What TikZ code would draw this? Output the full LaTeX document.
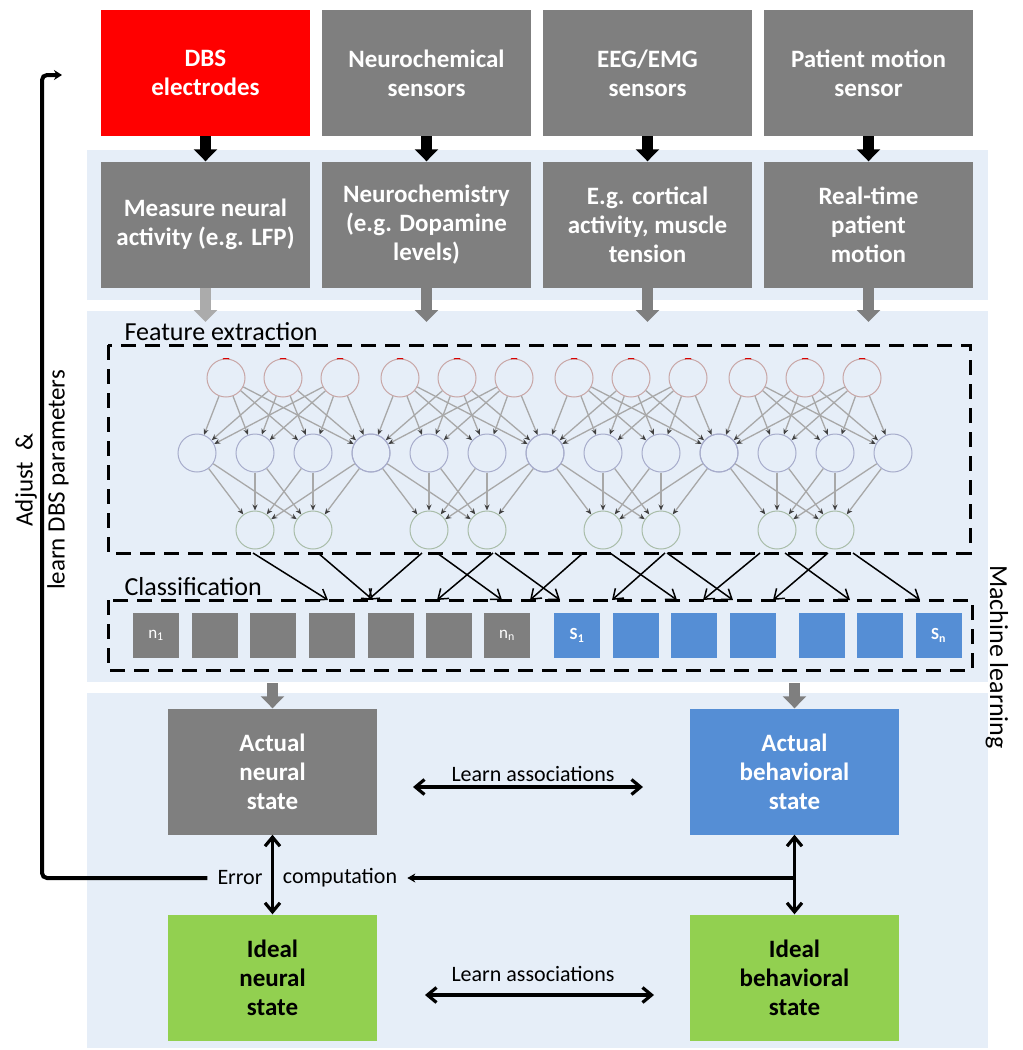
\documentclass[tikz,border=0pt]{standalone}
\usepackage{fontspec}
\setmainfont{Carlito}
\usetikzlibrary{arrows.meta,positioning}

\definecolor{panelblue}{HTML}{E6EEF8}
\definecolor{boxgray}{HTML}{7F7F7F}
\definecolor{arrowlight}{HTML}{ABABAB}
\definecolor{boxred}{HTML}{FF0000}
\definecolor{boxblue}{HTML}{558ED5}
\definecolor{boxgreen}{HTML}{92D050}
\definecolor{ringtop}{HTML}{C8A6A6}
\definecolor{ringhid}{HTML}{A7ACCB}
\definecolor{ringout}{HTML}{A9BDA9}
\definecolor{synapse}{HTML}{A8A8A8}

\begin{document}
\begin{tikzpicture}[x=1pt,y=-1pt,node distance=151.5pt and 221pt,on grid,
    box/.style={rectangle,fill=boxgray,minimum width=209pt,minimum height=126pt,
      inner sep=0pt,align=center,text=white,font=\fontsize{25}{29}\selectfont\bfseries},
    blk/.style={line width=11pt,-{Triangle[length=12pt,width=23pt]}},
    garr/.style={blk,draw=boxgray},
    neu/.style={circle,draw,minimum size=38pt,inner sep=0pt,line width=1pt},
    syn/.style={draw=synapse,line width=1.3pt,-{Stealth[length=6pt,width=5pt,color=black!75]}},
    dbox/.style={draw,line width=3pt,dash pattern=on 15pt off 9pt},
    xarr/.style={line width=1.5pt,-{Straight Barb[length=9pt,width=13pt]}},
    bidir/.style={line width=3.2pt,{Straight Barb[length=9pt,width=15pt]}-{Straight Barb[length=9pt,width=15pt]}},
    fb/.style={line width=4pt},
    lbl/.style={font=\fontsize{22}{26}\selectfont},
    side/.style={font=\fontsize{25}{29}\selectfont},
    cls/.style={rectangle,minimum width=46pt,minimum height=45pt,inner sep=0pt,
      text=white,font=\fontsize{17}{20}\selectfont}]

    \useasboundingbox (0,0) rectangle (1023,1050);

    % panels
    \fill[panelblue] (87,150) rectangle (988,300);
    \fill[panelblue] (87,311) rectangle (988,682);
    \fill[panelblue] (87,693) rectangle (988,1048);

    % sensors
    \node[box,fill=boxred] (dbs) at (205.5,73) {DBS\\electrodes};
    \node[box] (chem) [right=of dbs] {Neurochemical\\sensors};
    \node[box] (eeg) [right=of chem] {EEG/EMG\\sensors};
    \node[box] (mot) [right=of eeg] {Patient motion\\sensor};

    \node[box] (lfp) [below=of dbs] {Measure neural\\activity (e.g. LFP)};
    \node[box] (dopa) [below=of chem] {Neurochemistry\\(e.g. Dopamine\\levels)};
    \node[box] (cort) [below=of eeg] {E.g. cortical\\activity, muscle\\tension};
    \node[box] (move) [below=of mot] {Real-time\\patient\\motion};

    \coordinate (p2in) at (0,322);
    \foreach \s/\m in {dbs/lfp,chem/dopa,eeg/cort,mot/move}
        \draw[blk] (\s.south) -- (\m.north);
    \draw[garr,draw=arrowlight] (lfp.south) -- (lfp.south |- p2in);
    \foreach \m in {dopa,cort,move}
        \draw[garr] (\m.south) -- (\m.south |- p2in);

    % feature extraction
    \node[side,font=\fontsize{26}{30}\selectfont,anchor=west] (feat) at (121,332) {Feature extraction};
    \draw[dbox] (108,345) rectangle (970,553);

    \foreach \g in {0,...,3}{
        \foreach \i in {0,1,2}{
            \node[neu,draw=ringtop] (t-\g-\i) at (226+174*\g+57*\i,378) {};
            \draw[red!85!black,line width=1pt] (t-\g-\i.80) arc[start angle=80,end angle=100,radius=19pt];
        }
        \foreach \j in {0,...,3}
            \node[neu,draw=ringhid] (h-\g-\j) at (197+174*\g+58*\j,453) {};
        \foreach \k in {1,2}
            \node[neu,draw=ringout] (o-\g-\k) at (197+174*\g+58*\k,530) {};
        \foreach \i in {0,1,2}
            \foreach \j in {0,...,3}
                \draw[syn] (t-\g-\i) -- (h-\g-\j);
        \foreach \j in {0,...,3}
            \foreach \k in {1,2}
                \draw[syn] (h-\g-\j) -- (o-\g-\k);
    }

    % classification
    \node[side,font=\fontsize{26}{30}\selectfont,anchor=west] (clsf) at (121,587) {Classification};
    \draw[dbox] (108,600) rectangle (972,670);

    \foreach \a/\b [count=\k] in {253/328,318/373,422/368,437/502,493/437,495/560,583/530,
                                   610/677,665/612,667/733,760/703,785/850,828/773,853/920}{
        \coordinate (fo\k) at (\a,553);
        \coordinate (ci\k) at (\b,600);
        \draw[xarr] (fo\k) -- (ci\k);
    }

    \foreach \x/\t [count=\k] in {156/n\textsubscript{1},214.5/,273/,332/,390.5/,448.5/,507/n\textsubscript{n}}
        \node[cls,fill=boxgray] (cn\k) at (\x,635.5) {\t};
    \foreach \x/\t [count=\k] in {577/S\textsubscript{1},635.5/,694/,752.5/,821.5/,880/,938.5/S\textsubscript{n}}
        \node[cls,fill=boxblue,font=\fontsize{17}{20}\selectfont\bfseries] (cs\k) at (\x,635.5) {\t};

    \node[side,font=\fontsize{26}{30}\selectfont,rotate=-90] (ml) at (997,657) {Machine learning};

    % states
    \node[box] (an) at (272.5,771.5) {Actual\\neural\\state};
    \node[box,fill=boxblue] (ab) [right=522pt of an] {Actual\\behavioral\\state};
    \node[box,fill=boxgreen,text=black] (in) [below=206pt of an] {Ideal\\neural\\state};
    \node[box,fill=boxgreen,text=black] (ib) [below=206pt of ab] {Ideal\\behavioral\\state};

    \coordinate (p3in) at (0,683);
    \draw[garr] (an.north |- p3in) -- (an.north);
    \draw[garr] (ab.north |- p3in) -- (ab.north);

    \node[lbl] (la1) at (533,774) {Learn associations};
    \coordinate (la1l) at (413,787);
    \coordinate (la1r) at (643,787);
    \draw[bidir] (la1l) -- (la1r);

    \node[lbl] (la2) at (533,974) {Learn associations};
    \coordinate (la2l) at (425,995);
    \coordinate (la2r) at (654,995);
    \draw[bidir] (la2l) -- (la2r);

    % error computation
    \node[lbl,inner xsep=10pt] (err) at (240,878) {Error};
    \node[lbl,inner xsep=10pt] (comp) at (340,878) {computation};
    \draw[bidir] (an.south) -- (in.north);
    \draw[bidir] (ab.south) -- (ib.north);
    \draw[fb,-{Stealth[length=8pt,width=9pt]}] (ab.south |- comp.east) -- (comp.east);

    \coordinate (adj) at (62,75);
    \draw[fb,rounded corners=5pt,-{Stealth[length=8pt,width=10pt]}] (err.west) -| ([xshift=-20pt]adj) -- (adj);
    \node[side,rotate=90] (adjt) at (26,480) {Adjust~~\&};
    \node[side,rotate=90] (learnt) at (58,480) {learn DBS parameters};
\end{tikzpicture}
\end{document}
